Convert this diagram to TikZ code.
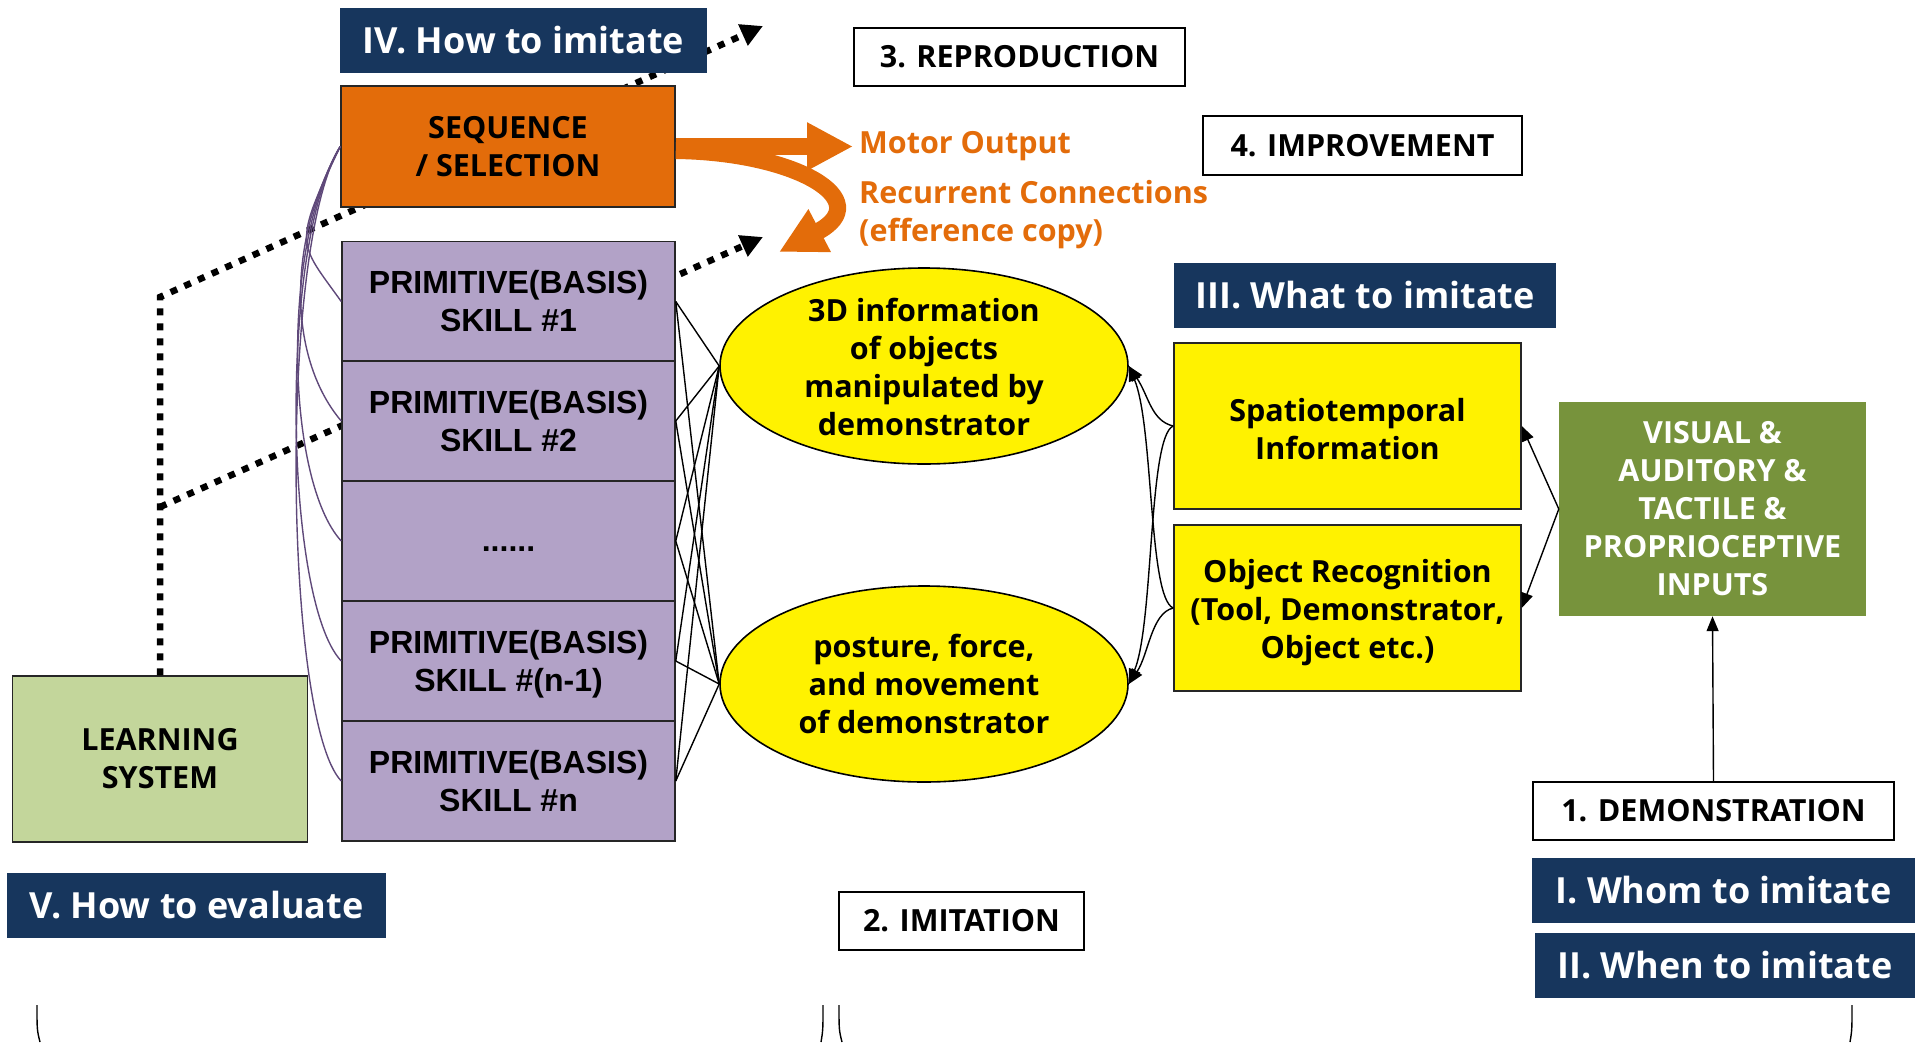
\documentclass[tikz,border=0pt]{standalone}
\usepackage{fontspec}
\setmainfont{Open Sans}
\newfontfamily\arialfont{Liberation Sans}
\usetikzlibrary{arrows.meta,shapes.geometric}

\definecolor{navy}{HTML}{17365D}
\definecolor{seqorange}{HTML}{E36C0A}
\definecolor{lilac}{HTML}{B2A2C7}
\definecolor{sage}{HTML}{C3D69B}
\definecolor{olive}{HTML}{77933C}
\definecolor{plum}{HTML}{5F497A}
\definecolor{edgegrey}{HTML}{262626}

\begin{document}
\begin{tikzpicture}[x=1pt,y=-1pt,
  base/.style={inner sep=0pt, align=center, font=\fontsize{30.5}{38}\selectfont\bfseries},
  heading/.style={base, fill=navy, text=white, font=\fontsize{36}{44}\selectfont\bfseries},
  stage/.style={base, draw=black, line width=2.5pt, fill=white},
  block/.style={base, draw=edgegrey, line width=1.5pt},
  skill/.style={block, fill=lilac, minimum width=333pt, minimum height=120pt,
    font=\arialfont\fontsize{32}{38}\selectfont\bfseries},
  info/.style={ellipse, draw=black, line width=1.6pt, fill=yellow, inner sep=0pt,
    minimum width=408pt, minimum height=196pt},
  conn/.style={black, line width=1.4pt, -{Triangle[length=15pt 0,width=12pt 0]}},
  mesh/.style={black, line width=1.4pt},
  link/.style={plum, line width=1.4pt},
  dotline/.style={black, line width=6.5pt, dash pattern=on 7pt off 8pt,
    -{Triangle[length=22pt 0,width=22pt 0]}},
  flow/.style={seqorange, line width=17pt, -{Triangle[length=46pt 0,width=45pt 0]}},
]
\useasboundingbox (0,0) rectangle (1915,1042);

% bends and ends of the dotted evaluation paths
\coordinate (bend1) at (159,297);
\coordinate (bend2) at (159,507);
\coordinate (tip1) at (763,26);
\coordinate (tip2) at (763,237);

% learning system (needed first for the dotted paths)
\node[block, fill=sage, minimum width=295pt, minimum height=166pt] (learn) at (160,759)
  {LEARNING\\SYSTEM};

\draw[dotline] (learn.north) -- (learn.north |- bend1) -- (tip1);
\draw[dotline] (learn.north |- bend2) -- (tip2);

% headings
\node[heading, minimum width=367pt, minimum height=65pt] (h4) at (523.5,40.5) {IV. How to imitate};
\node[heading, minimum width=382pt, minimum height=65pt] (h3) at (1365,295.5) {III. What to imitate};
\node[heading, minimum width=379pt, minimum height=65pt] (h5) at (196.5,905.5) {V. How to evaluate};
\node[heading, minimum width=383pt, minimum height=65pt] (h1) at (1723.5,890.5) {I. Whom to imitate};
\node[heading, minimum width=380pt, minimum height=65pt] (h2) at (1725,965.5) {II. When to imitate};

% stage labels
\node[stage, minimum width=331pt, minimum height=58pt] (repro) at (1019.5,57) {3. REPRODUCTION};
\node[stage, minimum width=319pt, minimum height=59pt] (impr) at (1362.5,145.5) {4. IMPROVEMENT};
\node[stage, minimum width=361pt, minimum height=58pt] (demo) at (1713.5,811) {1. DEMONSTRATION};
\node[stage, minimum width=245pt, minimum height=58pt] (imit) at (961.5,921) {2. IMITATION};

% sequence / selection and primitive skills
\node[block, fill=seqorange, minimum width=334pt, minimum height=121pt] (seq) at (508,146.5)
  {SEQUENCE\\/ SELECTION};
\node[skill] (p1) at (508.5,301.5) {PRIMITIVE(BASIS)\\SKILL \#1};
\node[skill] (p2) at (508.5,421) {PRIMITIVE(BASIS)\\SKILL \#2};
\node[skill] (p3) at (508.5,541) {};
\node[skill, draw=none, fill=none, minimum width=0pt, minimum height=0pt] (p3dots)
  at ([yshift=-8pt]p3.center) {......};
\node[skill] (p4) at (508.5,661) {PRIMITIVE(BASIS)\\SKILL \#\smash{(n-1)}};
\node[skill] (p5) at (508.5,781) {PRIMITIVE(BASIS)\\SKILL \#n};

% motor output and efference copy
\coordinate (motor) at (853,146.5);
\coordinate (recur) at (779,252);
\draw[flow] (seq.east) -- (motor);
\draw[flow] ([yshift=-4pt]seq.east) .. controls (795,152) and (878,200) .. (recur);
\node[base, text=seqorange, anchor=west] (motortxt) at (859,146) {Motor Output};
\node[base, text=seqorange, anchor=west, align=left] (recurtxt) at (859,215)
  {Recurrent Connections\\(efference copy)};

% what is perceived
\node[info] (e1) at (924,366) {};
\node[base] (e1txt) at ([yshift=-1pt]e1.center) {3D information\\of objects\\manipulated by\\demonstrator};
\node[info] (e2) at (924,684) {};
\node[base] (e2txt) at (e2.center) {posture, force,\\and movement\\of demonstrator};

\node[block, fill=yellow, minimum width=347pt, minimum height=166pt] (spat) at (1347.5,426) {};
\node[base] (spattxt) at ([yshift=-3pt]spat.center) {Spatiotemporal\\Information};
\node[block, fill=yellow, minimum width=347pt, minimum height=166pt] (obj) at (1347.5,608) {};
\node[base] (objtxt) at ([yshift=-5pt]obj.center) {Object Recognition\\(Tool, Demonstrator,\\Object etc.)};
\node[base, fill=olive, text=white, minimum width=307pt, minimum height=214pt] (vis) at (1712.5,509)
  {VISUAL \&\\AUDITORY \&\\TACTILE \&\\PROPRIOCEPTIVE\\INPUTS};

% selection drives every primitive skill
\foreach \k/\dx in {1/48,2/56,3/60,4/62,5/62}
  \draw[link] (seq.west) .. controls +(-\dx,100) and +(-\dx+5,-60) .. (p\k.west);

% every primitive skill meets both percepts
\foreach \k in {1,...,5} {
  \draw[mesh] (p\k.east) -- (e1.west);
  \draw[mesh] (p\k.east) -- (e2.west);
}

% features feeding the percepts
\draw[conn] (spat.west) .. controls +(-22,-5) and +(20,30) .. (e1.east);
\draw[conn] (spat.west) .. controls +(-25,10) and +(25,-60) .. (e2.east);
\draw[conn] (obj.west) .. controls +(-25,-10) and +(25,60) .. (e1.east);
\draw[conn] (obj.west) .. controls +(-22,5) and +(20,-30) .. (e2.east);

\draw[conn] (vis.west) -- (spat.east);
\draw[conn] (vis.west) -- (obj.east);
\draw[conn] (demo.north) -- (vis.south);

% brace ends along the lower edge
\draw[mesh] (37,1005) .. controls (37,1030) .. (40,1042);
\draw[mesh] (823,1005) .. controls (823,1030) .. (821,1042);
\draw[mesh] (839,1005) .. controls (839,1030) .. (842,1042);
\draw[mesh] (1852,1005) .. controls (1852,1030) .. (1850,1042);
\end{tikzpicture}
\end{document}
